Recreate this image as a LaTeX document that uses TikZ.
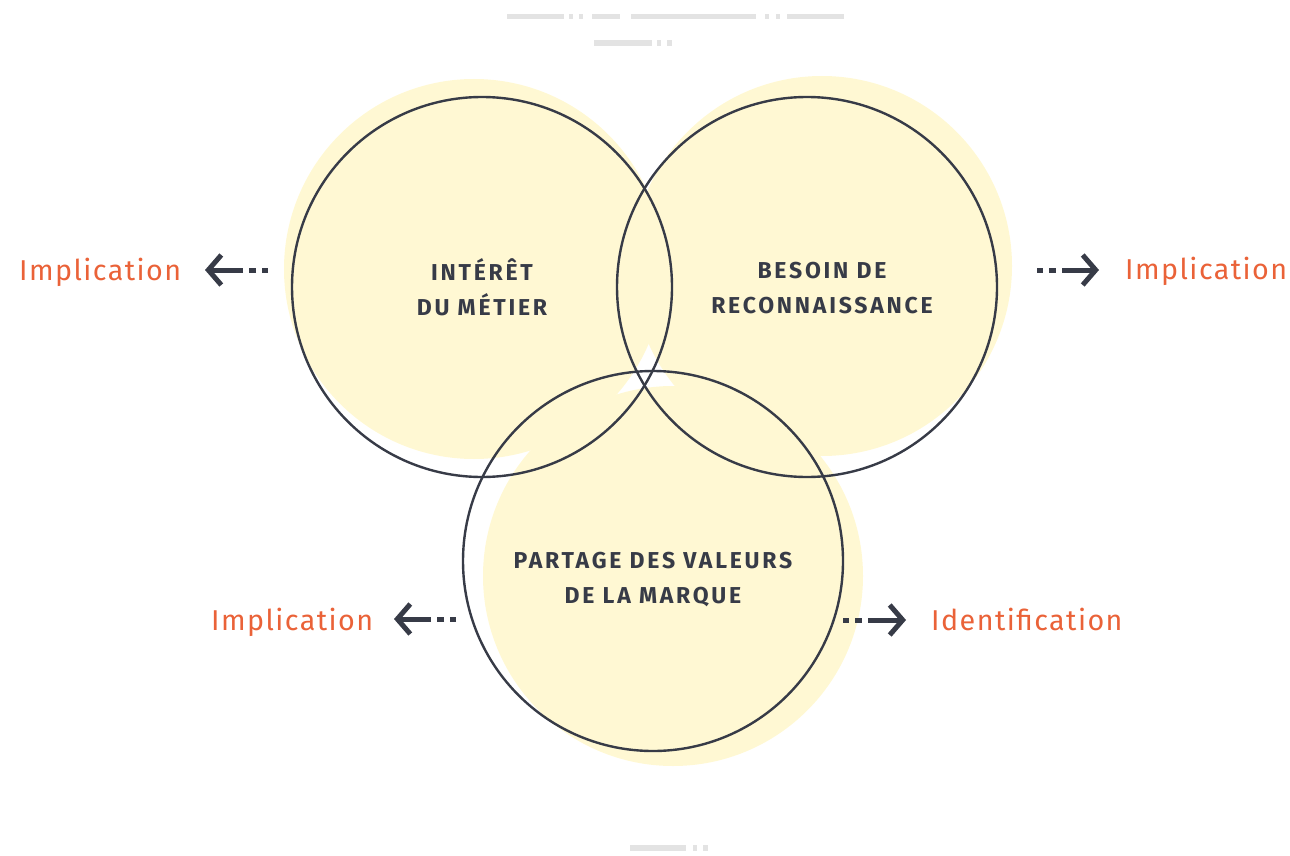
\documentclass[tikz,border=0pt]{standalone}
\usepackage{fontspec}
\setmainfont{Fira Sans}
\usetikzlibrary{arrows.meta}
\definecolor{ink}{HTML}{373B47}
\definecolor{fillY}{HTML}{FFF8D3}
\definecolor{orng}{HTML}{EA6238}
\definecolor{barc}{HTML}{E3E3E3}
\tikzset{
  fillc/.style={circle, minimum size=380pt, inner sep=0pt, fill=fillY, draw=none},
  ringc/.style={circle, minimum size=380pt, inner sep=0pt, draw=ink, line width=2.4pt},
  lbl/.style={align=center, text=ink, inner sep=0pt, font=\fontsize{23}{35}\selectfont\bfseries\addfontfeatures{LetterSpace=12}},
  imp/.style={text=orng, inner sep=0pt, anchor=base west, font=\fontsize{28.7}{30}\selectfont\addfontfeatures{LetterSpace=5}},
  arr/.style={draw=ink, line width=5pt, dash pattern=on 6pt off 6pt on 7pt off 6pt on 200pt, -{Straight Barb[length=13pt,width=30pt]}},
  barr/.style={fill=barc, draw=none}
}
\begin{document}
\begin{tikzpicture}[x=1pt,y=-1pt]
\useasboundingbox (0,0) rectangle (1290,856);
% gray bars
\fill[barr] (507,14) rectangle (564,19);
\fill[barr] (569,14) rectangle (573,19);
\fill[barr] (579,14) rectangle (583,19);
\fill[barr] (592,14) rectangle (620,19);
\fill[barr] (631,14) rectangle (756,19);
\fill[barr] (765,14) rectangle (769,19);
\fill[barr] (776,14) rectangle (780,19);
\fill[barr] (787,14) rectangle (844,19);
\fill[barr] (594,40) rectangle (652,46);
\fill[barr] (657,40) rectangle (661,46);
\fill[barr] (667,40) rectangle (672,46);
\fill[barr] (630,845) rectangle (686,851);
\fill[barr] (693,845) rectangle (697,851);
\fill[barr] (703,845) rectangle (708,851);
% fills
\node[fillc] (fL) at (474,269) {};
\node[fillc] (fR) at (822,266) {};
\node[fillc] (fB) at (673,576) {};
% rings
\node[ringc] (cL) at (482,287) {};
\node[ringc] (cR) at (807,287) {};
\node[ringc] (cB) at (653,561) {};
% labels
\node[lbl] (tL) at (482,287) {INTÉRÊT\\DU MÉTIER};
\node[lbl] (tR) at (822,288) {BESOIN DE\\RECONNAISSANCE};
\node[lbl] (tB) at (653,580) {PARTAGE DES VALEURS\\DE LA MARQUE};
% outer texts
\node[imp] (i1) at (19,280) {Implication};
\node[imp] (i2) at (1125,279) {Implication};
\node[imp] (i3) at (211,630) {Implication};
\node[imp] (i4) at (931,630) {Identification};
% arrows
\coordinate (a1s) at (268,270); \coordinate (a1e) at (205,270);
\coordinate (a2s) at (1037,270); \coordinate (a2e) at (1099,270);
\coordinate (a3s) at (456,619); \coordinate (a3e) at (394,619);
\coordinate (a4s) at (843,620); \coordinate (a4e) at (906,620);
\draw[arr] (a1s) -- (a1e);
\draw[arr] (a2s) -- (a2e);
\draw[arr] (a3s) -- (a3e);
\draw[arr] (a4s) -- (a4e);
\end{tikzpicture}
\end{document}
